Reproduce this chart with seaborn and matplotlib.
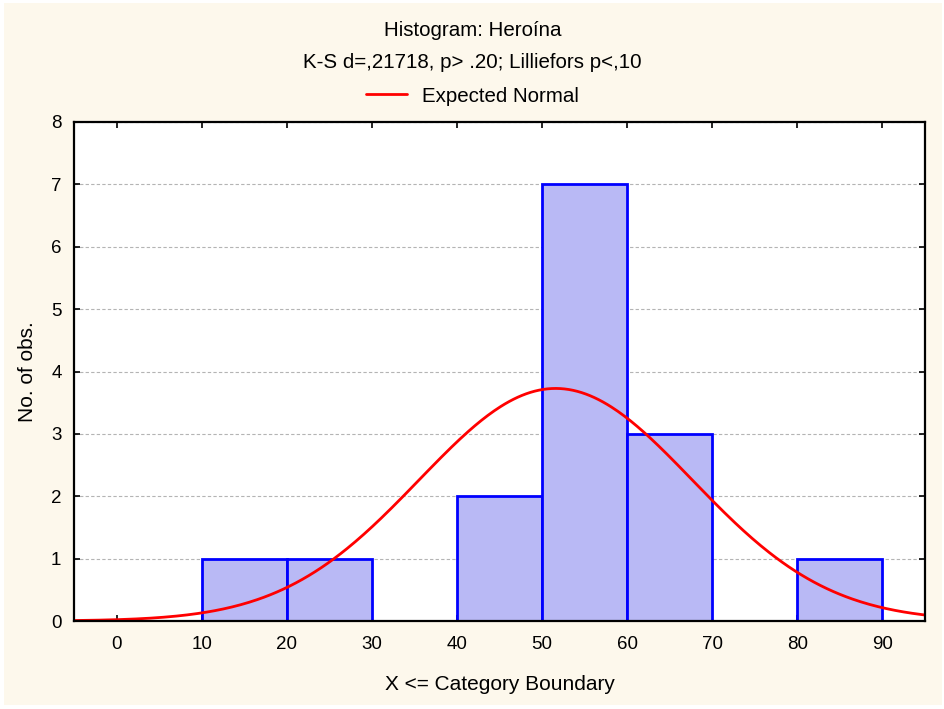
import numpy as np
import pandas as pd
import matplotlib

matplotlib.use("Agg")
import matplotlib.pyplot as plt
from matplotlib.patches import Rectangle
import seaborn as sns

# ---------------------------------------------------------------
# Data
# ---------------------------------------------------------------
bin_edges = [0, 10, 20, 30, 40, 50, 60, 70, 80, 90]
bin_counts = [0, 1, 1, 0, 2, 7, 3, 0, 1]

# expected-normal overlay parameters (fitted to the binned data)
norm_mean = 51.6
norm_sd = 16.05
n_obs = sum(bin_counts)
bin_width = 10

x_ticks = [0, 10, 20, 30, 40, 50, 60, 70, 80, 90]
y_ticks = [0, 1, 2, 3, 4, 5, 6, 7, 8]

title = "Histogram: Heroína"
subtitle = "K-S d=,21718, p> .20; Lilliefors p<,10"
legend_label = "Expected Normal"
x_label = "X <= Category Boundary"
y_label = "No. of obs."

# ---------------------------------------------------------------
# Build frames
# ---------------------------------------------------------------
centers = [e + bin_width / 2 for e in bin_edges[:-1]]
hist_df = pd.DataFrame({"x": centers, "count": bin_counts})

xs = np.linspace(-5, 95, 400)
pdf = np.exp(-0.5 * ((xs - norm_mean) / norm_sd) ** 2) / (norm_sd * np.sqrt(2 * np.pi))
curve_df = pd.DataFrame({"x": xs, "y": n_obs * bin_width * pdf})

# ---------------------------------------------------------------
# Plot
# ---------------------------------------------------------------
sns.set_theme(style="white")
plt.rcParams["font.family"] = ["Liberation Sans", "DejaVu Sans"]
plt.rcParams.update({
    "text.color": "black",
    "axes.labelcolor": "black",
    "xtick.color": "black",
    "ytick.color": "black",
})

fig = plt.figure(figsize=(9.45, 7.09), dpi=100, facecolor="white")
fig.patches.append(Rectangle((4 / 945, 4 / 709), 938 / 945, 702 / 709,
                             transform=fig.transFigure, facecolor="#fdf8ec",
                             edgecolor="none", zorder=-10))
ax = fig.add_axes([74 / 945, 1 - 621 / 709, 851 / 945, 499 / 709])
ax.set_facecolor("white")

sns.histplot(data=hist_df, x="x", weights="count", bins=bin_edges,
             color="#b9b9f5", edgecolor="#0000ff", linewidth=2,
             alpha=1, ax=ax, zorder=2)
sns.lineplot(data=curve_df, x="x", y="y", color="#ff0000", linewidth=2,
             ax=ax, zorder=3, label=legend_label)

ax.set_xlim(-5, 95)
ax.set_ylim(0, 8)
ax.set_xticks(x_ticks)
ax.set_yticks(y_ticks)
ax.yaxis.grid(True, color="#b4b4b4", linestyle=(0, (3, 2)), linewidth=0.8, zorder=0)
ax.set_axisbelow(True)

ax.tick_params(direction="in", length=4, width=1.2, colors="black",
               top=True, right=True, bottom=True, left=True, labelsize=13.5)
ax.tick_params(axis="x", pad=11)
ax.tick_params(axis="y", pad=9)
for sp in ax.spines.values():
    sp.set_color("black")
    sp.set_linewidth(1.6)
    sp.set_zorder(5)

ax.set_xlabel(x_label, fontsize=15, labelpad=16)
ax.set_ylabel(y_label, fontsize=15, labelpad=10)

fig.text(0.5, 1 - 31 / 709, title, ha="center", va="center", fontsize=14.8)
fig.text(0.5, 1 - 63 / 709, subtitle, ha="center", va="center", fontsize=14.8)

handles, labels = ax.get_legend_handles_labels()
ax.get_legend().remove()
fig.legend(handles, labels, loc="center", bbox_to_anchor=(0.5, 1 - 96 / 709),
           frameon=False, fontsize=14.8, handlelength=2.0, handletextpad=0.7,
           labelcolor="black")

fig.savefig("out.png", dpi=100, facecolor=fig.get_facecolor())
plt.close(fig)
